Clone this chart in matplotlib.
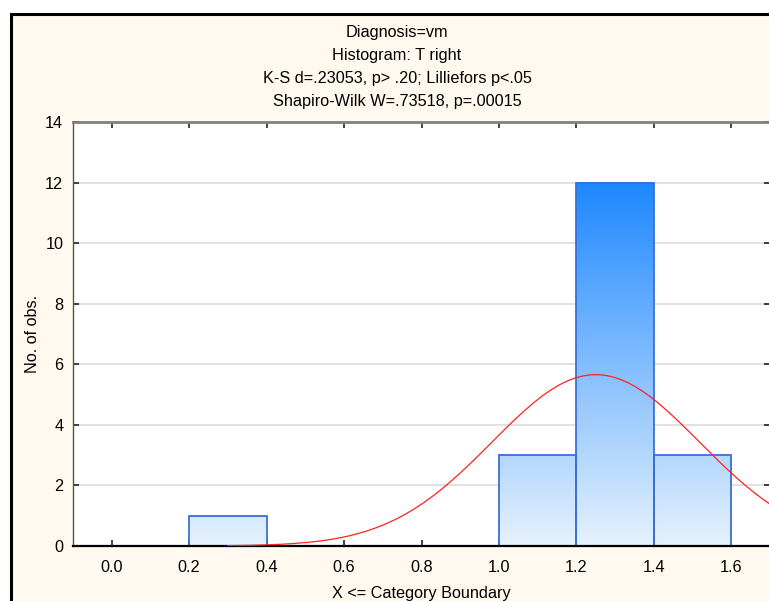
import numpy as np
import matplotlib.pyplot as plt
from matplotlib.colors import LinearSegmentedColormap
from matplotlib.patches import Rectangle

plt.rcParams['font.family'] = ['Liberation Sans', 'DejaVu Sans']

# histogram of T right, Diagnosis=vm
bin_left = [0.2, 1.0, 1.2, 1.4]
bin_width = 0.2
counts = [1, 3, 12, 3]

# fitted normal curve parameters
fit_mean = 1.25
fit_sd = 0.268
n_obs = 19

title_lines = [
    "Diagnosis=vm",
    "Histogram: T right",
    "K-S d=.23053, p> .20; Lilliefors p<.05",
    "Shapiro-Wilk W=.73518, p=.00015",
]
xticks = [0.0, 0.2, 0.4, 0.6, 0.8, 1.0, 1.2, 1.4, 1.6]
yticks = [0, 2, 4, 6, 8, 10, 12, 14]

W, H = 769, 601
fig = plt.figure(figsize=(W / 100, H / 100), dpi=100)
fig.patch.set_facecolor('white')

# cream panel with black frame
frame = Rectangle((11 / W, -0.05), 1.1, 1 - 14 / H + 0.05, transform=fig.transFigure,
                  facecolor='#FFF9EF', edgecolor='black', linewidth=2.2, zorder=-1)
fig.patches.append(frame)

ax = fig.add_axes([73 / W, 55 / H, 697 / W, 424 / H])
ax.set_zorder(1)
ax.set_facecolor('white')

ax.yaxis.grid(True, color='#DCDCDC', linewidth=1.2)
ax.set_axisbelow(True)

# vertical gradient shared by all bars, driven by bar height
cmap = LinearSegmentedColormap.from_list('bars', ['#E6F2FD', '#1E88FF'])
grad = np.linspace(0, 1, 256).reshape(-1, 1)
top = max(counts)
for x0, c in zip(bin_left, counts):
    ax.imshow(grad[: int(256 * c / top)], cmap=cmap, vmin=0, vmax=1, aspect='auto',
              origin='lower', extent=(x0, x0 + bin_width, 0, c), zorder=2,
              interpolation='bilinear')
    ax.add_patch(Rectangle((x0, 0), bin_width, c, facecolor='none',
                           edgecolor='#3A6FD8', linewidth=1.3, zorder=2.2))
ax.set_xlim(-0.1, 1.7)
ax.set_ylim(0, 14)

# expected counts under the normal fit
xs = np.linspace(0.3, 1.7, 400)
ys = n_obs * bin_width * np.exp(-0.5 * ((xs - fit_mean) / fit_sd) ** 2) / (fit_sd * np.sqrt(2 * np.pi))
ax.plot(xs, ys, color='#FF2020', linewidth=0.9, zorder=3)

ax.set_xticks(xticks)
ax.set_xticklabels([f"{t:.1f}" for t in xticks])
ax.set_yticks(yticks)
ax.tick_params(axis='both', direction='in', length=4, width=1.2, colors='#222222',
               labelsize=11.7, labelcolor='black', top=True, right=True)
ax.tick_params(axis='x', pad=10)
ax.tick_params(axis='y', pad=7)

ax.spines['bottom'].set_color('black')
ax.spines['bottom'].set_linewidth(1.6)
ax.spines['top'].set_color('#808080')
ax.spines['top'].set_linewidth(2)
ax.spines['left'].set_color('#555555')
ax.spines['left'].set_linewidth(1.0)
ax.spines['right'].set_color('#808080')
ax.spines['right'].set_linewidth(1.0)

ax.set_xlabel("X <= Category Boundary", fontsize=11.7, labelpad=8)
ax.set_ylabel("No. of obs.", fontsize=11.7, labelpad=4)

for i, line in enumerate(title_lines):
    fig.text(397 / W, 1 - (33 + 22.7 * i) / H, line, ha='center', va='center', fontsize=11.7)

fig.savefig('out.png', dpi=100)
